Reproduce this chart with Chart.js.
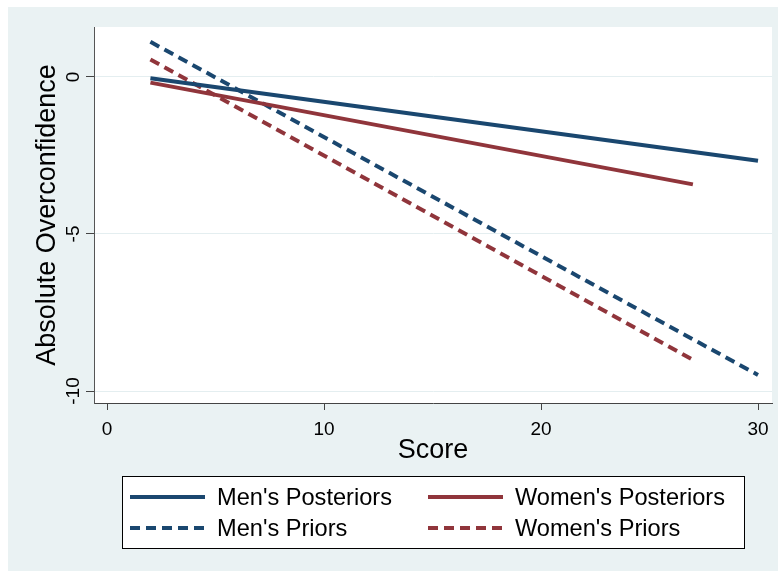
<!DOCTYPE html>
<html>
<head>
<meta charset="utf-8">
<style>
  html, body { margin: 0; padding: 0; background: #ffffff; }
  canvas { display: block; }
</style>
</head>
<body>
<canvas id="chart" width="778" height="571"></canvas>

<script src="https://cdn.jsdelivr.net/npm/chart.js"></script>
<script>
/* ---------------- DATA ---------------- */
const seriesNames = ["Men's Posteriors", "Women's Posteriors", "Men's Priors", "Women's Priors"];
const menScore = [2, 30];
const womenScore = [2, 27];
const menPosteriors = [-0.04, -2.67];
const womenPosteriors = [-0.18, -3.42];
const menPriors = [1.12, -9.49];
const womenPriors = [0.56, -9.01];
const xTicks = [0, 10, 20, 30];
const yTicks = [-10, -5, 0];
const xTitle = 'Score';
const yTitle = 'Absolute Overconfidence';

const NAVY = '#1a476f';
const MAROON = '#90353b';
const FONT = '"Liberation Sans", Arial, sans-serif';

function pts(xs, ys) {
  return xs.map((x, i) => ({ x: x, y: ys[i] }));
}

/* ---------------- PLUGIN: backgrounds, y labels, titles, legend ---------------- */
const stataFrame = {
  id: 'stataFrame',
  beforeDraw(chart) {
    const ctx = chart.ctx;
    const a = chart.chartArea;
    ctx.save();
    ctx.fillStyle = '#eaf2f3';
    ctx.fillRect(8, 7, chart.width - 8, chart.height - 7);
    ctx.fillStyle = '#ffffff';
    ctx.fillRect(a.left, a.top, a.right - a.left, a.bottom - a.top);
    ctx.restore();
  },
  afterDraw(chart) {
    const ctx = chart.ctx;
    const y = chart.scales.y;
    const a = chart.chartArea;
    ctx.save();
    ctx.fillStyle = '#000';

    // y tick labels, rotated
    ctx.font = '19px ' + FONT;
    ctx.textAlign = 'center';
    ctx.textBaseline = 'alphabetic';
    yTicks.forEach(v => {
      const py = y.getPixelForValue(v);
      ctx.save();
      ctx.translate(79, py);
      ctx.rotate(-Math.PI / 2);
      ctx.fillText(String(v), 0, 0);
      ctx.restore();
    });

    // axis titles
    ctx.font = '27px ' + FONT;
    ctx.save();
    ctx.translate(55, (a.top + a.bottom) / 2);
    ctx.rotate(-Math.PI / 2);
    ctx.fillText(yTitle, 0, 0);
    ctx.restore();
    ctx.fillText(xTitle, (a.left + a.right) / 2, 458);

    // legend box
    ctx.fillStyle = '#ffffff';
    ctx.fillRect(122, 476, 622, 72);
    ctx.strokeStyle = '#000';
    ctx.lineWidth = 1;
    ctx.strokeRect(122.5, 476.5, 622, 72);

    const cols = [130, 428];
    const rows = [497, 528];
    ctx.font = '23.6px ' + FONT;
    ctx.textAlign = 'left';
    ctx.textBaseline = 'middle';
    chart.data.datasets.forEach((ds, i) => {
      const lx = cols[i % 2];
      const ly = rows[Math.floor(i / 2)];
      ctx.beginPath();
      ctx.strokeStyle = ds.borderColor;
      ctx.lineWidth = ds.borderWidth;
      ctx.setLineDash(ds.borderDash || []);
      ctx.moveTo(lx, ly);
      ctx.lineTo(lx + 75, ly);
      ctx.stroke();
      ctx.setLineDash([]);
      ctx.fillStyle = '#000';
      ctx.fillText(ds.label, lx + 87, ly + 1);
    });
    ctx.restore();
  }
};

/* ---------------- CHART ---------------- */
const ctx = document.getElementById('chart').getContext('2d');
new Chart(ctx, {
  type: 'line',
  data: {
    datasets: [
      { label: seriesNames[0], data: pts(menScore, menPosteriors), borderColor: NAVY, borderWidth: 4, borderDash: [] },
      { label: seriesNames[1], data: pts(womenScore, womenPosteriors), borderColor: MAROON, borderWidth: 4, borderDash: [] },
      { label: seriesNames[2], data: pts(menScore, menPriors), borderColor: NAVY, borderWidth: 4, borderDash: [10, 6] },
      { label: seriesNames[3], data: pts(womenScore, womenPriors), borderColor: MAROON, borderWidth: 4, borderDash: [10, 6] }
    ]
  },
  options: {
    responsive: false,
    animation: false,
    layout: { padding: { top: 27, right: 6, left: 0, bottom: 0 } },
    elements: { point: { radius: 0 }, line: { tension: 0, borderCapStyle: 'butt' } },
    plugins: { legend: { display: false }, tooltip: { enabled: false } },
    scales: {
      x: {
        type: 'linear',
        min: -0.6,
        max: 30.645,
        afterBuildTicks: s => { s.ticks = xTicks.map(v => ({ value: v })); },
        afterFit: s => { s.height = 168; },
        grid: { drawOnChartArea: false, drawTicks: true, tickLength: 7, tickColor: '#444' },
        border: { display: true, color: '#444', width: 1 },
        ticks: { color: '#000', font: { size: 19, family: FONT }, padding: 8, maxRotation: 0 }
      },
      y: {
        type: 'linear',
        min: -10.382,
        max: 1.592,
        afterBuildTicks: s => { s.ticks = yTicks.map(v => ({ value: v })); },
        afterFit: s => { s.width = 94; },
        grid: { color: '#e4eef0', lineWidth: 1, drawTicks: true, tickLength: 8, tickColor: '#444' },
        border: { display: true, color: '#555', width: 1 },
        ticks: { display: false }
      }
    }
  },
  plugins: [stataFrame]
});
</script>
</body>
</html>
